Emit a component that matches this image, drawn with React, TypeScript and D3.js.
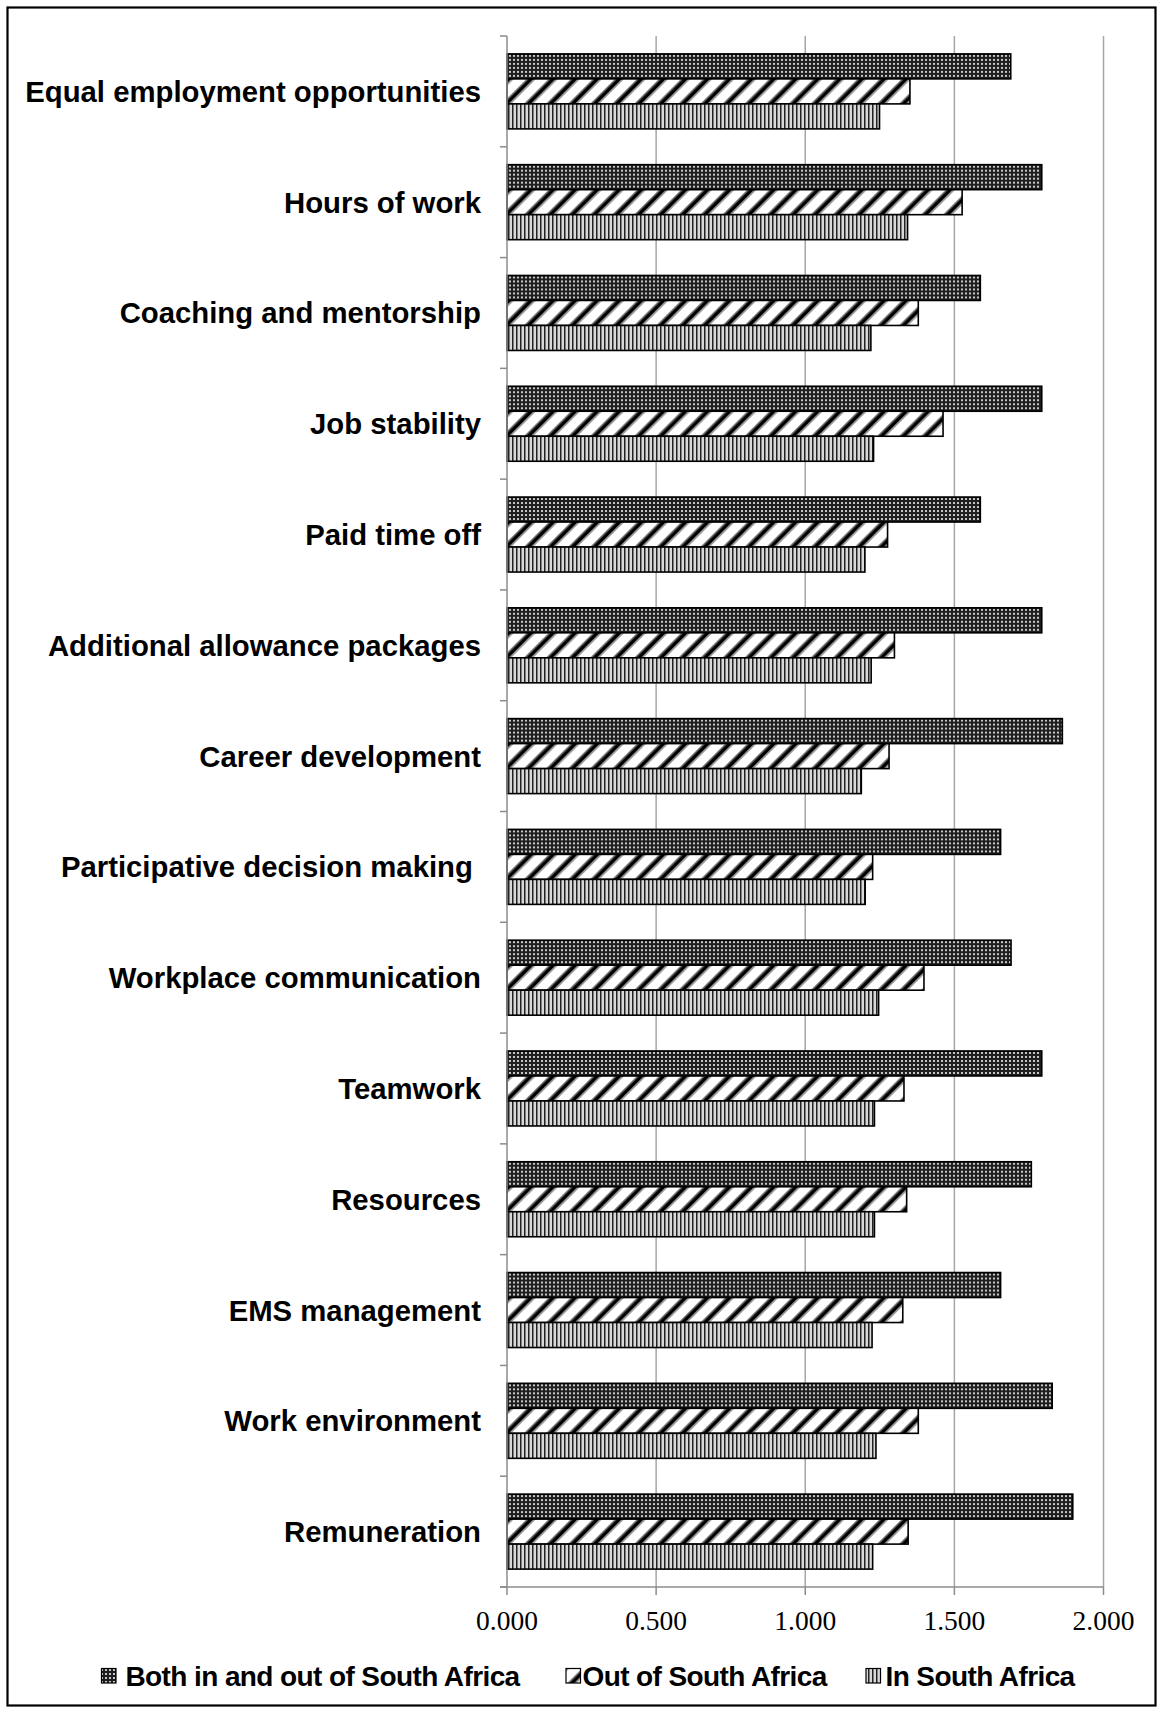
import React from "react";
import * as d3 from "d3";

const categories = [
  "Equal employment opportunities",
  "Hours of work",
  "Coaching and mentorship",
  "Job stability",
  "Paid time off",
  "Additional allowance packages",
  "Career development",
  "Participative decision making ",
  "Workplace communication",
  "Teamwork",
  "Resources",
  "EMS management",
  "Work environment",
  "Remuneration",
];

const seriesNames = ["Both in and out of South Africa", "Out of South Africa", "In South Africa"];
const bothValues = [1.689, 1.793, 1.587, 1.793, 1.587, 1.793, 1.862, 1.655, 1.69, 1.793, 1.758, 1.655, 1.828, 1.897];
const outValues = [1.351, 1.526, 1.379, 1.462, 1.276, 1.299, 1.281, 1.226, 1.398, 1.331, 1.34, 1.327, 1.379, 1.345];
const inValues = [1.249, 1.343, 1.22, 1.229, 1.2, 1.221, 1.188, 1.201, 1.246, 1.232, 1.232, 1.224, 1.237, 1.226];
const xTicks = [0, 0.5, 1, 1.5, 2];

const W = 1163;
const H = 1713;
const plotLeft = 507;
const plotRight = 1103.5;
const plotTop = 36;
const plotBottom = 1587;

const patternIds = ["patDots", "patDiag", "patVert"];

export default function App() {
  const x = d3.scaleLinear().domain([0, 2]).range([plotLeft, plotRight]);
  const y = d3
    .scaleBand<string>()
    .domain(categories)
    .range([plotTop, plotBottom])
    .paddingInner(0.323)
    .paddingOuter(0.1615);
  const sub = d3.scaleBand<string>().domain(seriesNames).range([0, y.bandwidth()]).padding(0);
  const values = [bothValues, outValues, inValues];
  const fmt = d3.format(".3f");
  const step = y.step();
  const boundaries = d3.range(categories.length + 1).map((i) => plotTop + i * step);

  const legendItems = [
    { icon: 101.5, text: 125.5 },
    { icon: 566, text: 582.5 },
    { icon: 866, text: 885.5 },
  ];
  const legendY = 1676;

  return (
    <div style={{ position: "absolute", left: 0, top: 0 }}>
      <svg width={W} height={H} xmlns="http://www.w3.org/2000/svg" style={{ display: "block", background: "#fff" }}>
        <defs>
          <pattern id="patDots" patternUnits="userSpaceOnUse" width={4} height={4}>
            <rect width={4} height={4} fill="#1e1e1e" />
            <circle cx={2} cy={2} r={1.1} fill="#f0f0f0" />
          </pattern>
          <pattern id="patDiag" patternUnits="userSpaceOnUse" width={15.6} height={15.6} patternTransform="rotate(45)">
            <rect width={15.6} height={15.6} fill="#ffffff" />
            <rect x={0} width={1.3} height={15.6} fill="#888" />
            <rect x={1.3} width={4} height={15.6} fill="#000" />
            <rect x={5.3} width={1.3} height={15.6} fill="#888" />
          </pattern>
          <pattern id="patVert" patternUnits="userSpaceOnUse" width={4} height={4}>
            <rect width={4} height={4} fill="#d8d8d8" />
            <rect x={0} width={1.5} height={4} fill="#222" />
          </pattern>
        </defs>

        {/* outer border */}
        <rect x={7.5} y={7.5} width={1148} height={1698} fill="none" stroke="#000" strokeWidth={2.2} />

        {/* gridlines */}
        {xTicks.slice(1).map((t) => (
          <line key={"g" + t} x1={x(t)} x2={x(t)} y1={plotTop} y2={plotBottom} stroke="#a6a6a6" strokeWidth={1.5} />
        ))}

        {/* bars */}
        {categories.map((c, i) => (
          <g key={c} transform={`translate(0,${y(c)})`}>
            {seriesNames.map((s, k) => (
              <rect
                key={s}
                x={x(0)}
                y={sub(s)}
                width={x(values[k][i]) - x(0)}
                height={sub.bandwidth()}
                fill={`url(#${patternIds[k]})`}
                stroke="#000"
                strokeWidth={1.6}
              />
            ))}
          </g>
        ))}

        {/* left axis */}
        <line x1={plotLeft} x2={plotLeft} y1={plotTop} y2={plotBottom} stroke="#8c8c8c" strokeWidth={1.5} />
        {boundaries.map((b, i) => (
          <line key={"yt" + i} x1={plotLeft - 7} x2={plotLeft} y1={b} y2={b} stroke="#8c8c8c" strokeWidth={1.5} />
        ))}
        {categories.map((c) => (
          <text
            key={"l" + c}
            x={481}
            y={(y(c) as number) + y.bandwidth() / 2}
            textAnchor="end"
            dominantBaseline="central"
            fontFamily="'Liberation Sans', Arial, sans-serif"
            fontWeight="bold"
            fontSize={29.3}
            fill="#000"
            style={{ whiteSpace: "pre" }}
          >
            {c}
          </text>
        ))}

        {/* bottom axis */}
        <line x1={plotLeft - 7} x2={plotRight} y1={plotBottom} y2={plotBottom} stroke="#8c8c8c" strokeWidth={1.5} />
        {xTicks.map((t) => (
          <g key={"xt" + t}>
            <line x1={x(t)} x2={x(t)} y1={plotBottom} y2={plotBottom + 8} stroke="#8c8c8c" strokeWidth={1.5} />
            <text
              x={x(t)}
              y={1620}
              textAnchor="middle"
              dominantBaseline="central"
              fontFamily="'Liberation Serif', 'Times New Roman', serif"
              fontSize={27.5}
              fill="#000"
            >
              {fmt(t)}
            </text>
          </g>
        ))}

        {/* legend */}
        {seriesNames.map((s, k) => (
          <g key={"lg" + s}>
            <rect
              x={legendItems[k].icon}
              y={legendY - 7.5}
              width={14.5}
              height={14.5}
              fill={`url(#${patternIds[k]})`}
              stroke="#000"
              strokeWidth={1.2}
            />
            <text
              x={legendItems[k].text}
              y={legendY}
              dominantBaseline="central"
              fontFamily="'Liberation Sans', Arial, sans-serif"
              fontWeight="bold"
              fontSize={28}
              letterSpacing={-0.6}
              fill="#000"
            >
              {s}
            </text>
          </g>
        ))}
      </svg>
    </div>
  );
}
